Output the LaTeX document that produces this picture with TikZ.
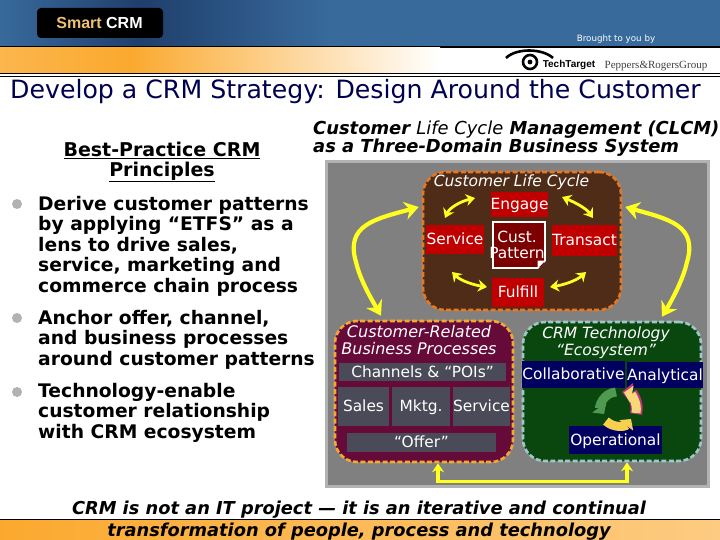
\documentclass[tikz,border=0pt]{standalone}
\usepackage{fontspec}
\setmainfont{DejaVu Sans}
\newfontfamily\libsans{Liberation Sans}
\newfontfamily\libserif{Liberation Serif}
\usetikzlibrary{arrows.meta}
\definecolor{bandblue}{HTML}{386A9C}
\definecolor{banddark}{HTML}{1F3F6C}
\definecolor{bandorange}{HTML}{FBA92E}
\definecolor{panelgray}{HTML}{808080}
\definecolor{lifebrown}{HTML}{4F2C18}
\definecolor{lifeedge}{HTML}{E87820}
\definecolor{bizplum}{HTML}{660A3A}
\definecolor{bizedge}{HTML}{F4A830}
\definecolor{techgreen}{HTML}{0A470F}
\definecolor{techedge}{HTML}{9CC8C8}
\definecolor{stepred}{HTML}{C00000}
\definecolor{slatebar}{HTML}{4A4A58}
\definecolor{navybox}{HTML}{000060}
\definecolor{titlenavy}{HTML}{000050}
\definecolor{arrowyellow}{HTML}{FFFF20}
\definecolor{smartgold}{HTML}{EEC070}
\definecolor{cycgreen}{HTML}{4F9A50}
\definecolor{cycyellow}{HTML}{F8D050}
\definecolor{cycpale}{HTML}{F6D878}
\tikzset{
  domainbox/.style={rounded corners=22pt,line width=2.6pt,dash pattern=on 5pt off 2.4pt,inner sep=0pt},
  flatbox/.style={inner sep=0pt,text=white,text height=11pt,text depth=1pt,font=\fontsize{15.4}{16}\selectfont},
  redbox/.style={flatbox,fill=stepred},
  slatebox/.style={flatbox,fill=slatebar},
  navybar/.style={flatbox,fill=navybox},
  domtitle/.style={text=white,align=center,inner sep=0pt,font=\fontsize{15.5}{17}\selectfont\itshape},
  dotmark/.style={circle,fill=gray!60,inner sep=0pt,minimum size=10pt},
  pointtext/.style={anchor=north west,align=left,inner sep=0pt,font=\fontsize{18.7}{20.5}\selectfont\bfseries},
  smallarrow/.style={arrowyellow,line width=2.8pt,{Stealth[length=9pt,width=12pt]}-{Stealth[length=9pt,width=12pt]}},
  bigarrow/.style={arrowyellow,line width=4.2pt,{Stealth[length=14pt,width=18pt]}-{Stealth[length=14pt,width=18pt]}},
  cycarc/.style={line width=9pt,-{Triangle[length=8pt,width=17pt]}},
  closing/.style={font=\fontsize{17.8}{18}\selectfont\bfseries\itshape,inner sep=0pt}
}
\begin{document}
\begin{tikzpicture}[x=1pt,y=-1pt]
    \useasboundingbox (0,0) rectangle (720,540);
    \fill[white] (0,0) rectangle (720,540);
    % header bands
    \shade[left color=bandblue,right color=banddark] (0,0) rectangle (140,47);
    \shade[left color=banddark,right color=bandblue] (140,0) rectangle (330,47);
    \fill[bandblue] (330,0) rectangle (720,47);
    \fill[black] (0,46) rectangle (720,48);
    \shade[left color=bandorange!85!white,right color=bandorange] (0,48) rectangle (130,73);
    \shade[left color=bandorange,right color=white] (130,48) rectangle (440,73);
    \fill[black] (0,73) rectangle (720,74.5);
    \fill[black] (0,76) rectangle (720,77);
    \node[fill=black,rounded corners=4pt,minimum width=126pt,minimum height=30pt,inner sep=0pt] (logo) at (100,23) {};
    \node[font=\libsans\bfseries\fontsize{16}{16}\selectfont,text=white] (smart) at (99.5,23) {\textcolor{smartgold}{Smart} CRM};
    \node[font=\fontsize{8.7}{9}\selectfont,text=white,inner sep=0pt] (brought) at (616,39) {Brought to you by};
    % eye mark
    \draw[line width=2.6pt] (506,58) .. controls (516,48) and (542,48) .. (553,58);
    \draw[line width=2.6pt] (530,62) circle (7);
    \fill (530,62) circle (2.4);
    \node[font=\libsans\bfseries\fontsize{10}{12}\selectfont,inner sep=0pt] (tech) at (569,65) {TechTarget};
    \node[font=\libserif\fontsize{11}{12}\selectfont,inner sep=0pt,text=black!75] (peppers) at (656,66) {Peppers\&RogersGroup};
    \node[font=\fontsize{25.2}{26}\selectfont,text=titlenavy,anchor=west,inner sep=0pt] (title) at (10,92) {Develop a CRM Strategy: Design Around the Customer};
    % left column
    \node[font=\fontsize{19}{20}\selectfont\bfseries,align=center,inner sep=0pt] (head) at (162,162) {\underline{Best-Practice CRM}\\\underline{Principles}};
    \node[dotmark] (b1) at (17,204) {};
    \node[dotmark] (b2) at (17,318) {};
    \node[dotmark] (b3) at (17,392) {};
    \node[pointtext] (p1) at (38,196) {Derive customer patterns\\by applying “ETFS” as a\\lens to drive sales,\\service, marketing and\\commerce chain process};
    \node[pointtext] (p2) at (38,310) {Anchor offer, channel,\\and business processes\\around customer patterns};
    \node[pointtext] (p3) at (38,383) {Technology-enable\\customer relationship\\with CRM ecosystem};
    \node[font=\fontsize{17.9}{18}\selectfont\bfseries\itshape,align=left,anchor=north west,inner sep=0pt] (clcm) at (313,121) {Customer {\mdseries Life Cycle} Management (CLCM)\\as a Three-Domain Business System};
    % panel and domains
    \fill[panelgray,draw=gray!60,line width=3pt] (326.5,161.5) rectangle (708,486);
    \node[domainbox,fill=lifebrown,draw=lifeedge,minimum width=198pt,minimum height=138pt] (life) at (522,241) {};
    \node[domainbox,fill=bizplum,draw=bizedge,minimum width=178pt,minimum height=141pt] (biz) at (424,391.5) {};
    \node[domainbox,fill=techgreen,draw=techedge,minimum width=178pt,minimum height=139pt] (eco) at (612,391.5) {};
    \node[domtitle] (lifetitle) at (511.5,182) {Customer Life Cycle};
    \node[domtitle,font=\fontsize{16}{17}\selectfont\itshape] (biztitle) at (419,340) {Customer-Related\\Business Processes};
    \node[domtitle] (ecotitle) at (606,343) {CRM Technology\\“Ecosystem”};
    \node[redbox,minimum width=57pt,minimum height=25pt] (engage) at (519.5,204.5) {Engage};
    \node[redbox,minimum width=58pt,minimum height=29pt] (service) at (455,239.5) {Service};
    \node[redbox,minimum width=61pt,minimum height=31pt] (transact) at (584.5,240.5) {Transact};
    \node[redbox,minimum width=52pt,minimum height=29pt] (fulfill) at (518,292.5) {Fulfill};
    \node[fill=stepred!65!black,draw=white,line width=2pt,minimum width=52pt,minimum height=45pt,inner sep=0pt] (cust) at (518.5,245) {};
    \fill[lifebrown] (cust.south east) ++(1,1) -- ++(-9,0) -- ++(9,-9) -- cycle;
    \fill[white] (cust.south east) ++(-8,0) -- ++(8,-8) -- ++(-8,0) -- cycle;
    \node[align=center,inner sep=0pt,text=white,font=\fontsize{15.4}{16}\selectfont] (custtext) at (517,245) {Cust.\\Pattern};
    \node[slatebox,minimum width=167pt,minimum height=18pt] (channels) at (422.5,372) {Channels \& “POIs”};
    \node[slatebox,minimum width=51pt,minimum height=39pt] (sales) at (363.5,406.5) {Sales};
    \node[slatebox,minimum width=58pt,minimum height=39pt] (mktg) at (421,406.5) {Mktg.};
    \node[slatebox,minimum width=57pt,minimum height=39pt] (bizservice) at (481.5,406.5) {Service};
    \node[slatebox,minimum width=149pt,minimum height=19pt] (offer) at (421.5,442.5) {“Offer”};
    \node[navybar,minimum width=99pt,minimum height=27pt] (collab) at (573.5,374.5) {Collaborative};
    \node[navybar,minimum width=72pt,minimum height=26pt] (analytic) at (665,375) {Analytical};
    \node[navybar,minimum width=93pt,minimum height=28pt] (oper) at (615.5,440) {Operational};
    % cycle mark
    \draw[cycarc,cycgreen] (616,392) .. controls (603,393) and (599,407) .. (604,414);
    \draw[cycarc,cycyellow] (606,421) .. controls (613,428) and (625,427) .. (631,419);
    \draw[cycarc,magenta!75!black,line width=12pt,-{Triangle[length=10pt,width=20pt]}] (636,414) .. controls (639,402) and (631,393) .. (622,392);
    \draw[cycarc,cycpale] (636,413) .. controls (638,403) and (631,394) .. (624,392.5);
    % arrows
    \draw[smallarrow] (445,218) .. controls (450,207) and (462,201) .. (475,198);
    \draw[smallarrow] (562,197) .. controls (574,202) and (586,208) .. (593,218);
    \draw[smallarrow] (452,272) .. controls (461,281) and (474,285) .. (487,287);
    \draw[smallarrow] (550,287) .. controls (563,285) and (576,281) .. (586,272);
    \draw[bigarrow] ([xshift=-3pt]life.west |- 0,207) .. controls (375,219) and (345,225) .. (356,262) .. controls (360,280) and (372,300) .. ([yshift=4pt]biz.north -| 381,0);
    \draw[bigarrow] ([xshift=3pt]life.east |- 0,207) .. controls (668,219) and (698,225) .. (687,262) .. controls (683,280) and (672,300) .. ([yshift=4pt]eco.north -| 662,0);
    \draw[bigarrow,line width=3.4pt,{Stealth[length=9pt,width=12pt]}-{Stealth[length=9pt,width=12pt]}] ([xshift=14pt]biz.south) -- ++(0,18) -| ([xshift=15pt]eco.south);
    % footer
    \fill[black] (0,519) rectangle (720,520);
    \shade[left color=bandorange,right color=bandorange!60!white] (0,520) rectangle (720,540);
    \node[closing] (foot1) at (359,510) {CRM is not an IT project — it is an iterative and continual};
    \node[closing] (foot2) at (359,531.5) {transformation of people, process and technology};
\end{tikzpicture}
\end{document}
